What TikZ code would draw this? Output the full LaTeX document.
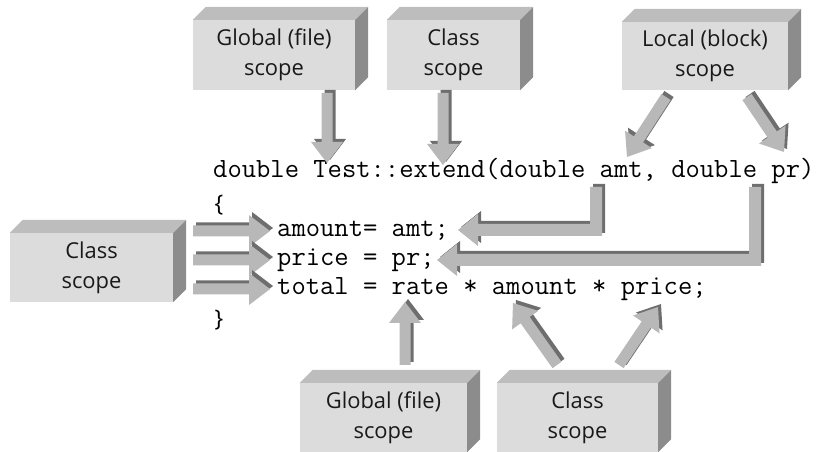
\documentclass[tikz,border=0pt]{standalone}
\usepackage{fontspec}
\setmainfont{Open Sans}
\usetikzlibrary{calc}
\definecolor{boxfront}{HTML}{DCDCDC}
\definecolor{boxtop}{HTML}{BDBDBD}
\definecolor{boxside}{HTML}{8C8C8C}
\definecolor{arrowlight}{HTML}{B8B8B8}
\definecolor{arrowdark}{HTML}{6E6E6E}
\tikzset{
  scopebox/.style={fill=boxfront, inner sep=0pt, align=center,
    font=\fontsize{22}{30}\selectfont, text=black!90},
  code/.style={anchor=base west, inner sep=0pt, font=\ttfamily\fontsize{27.9}{29}\selectfont},
  brace/.style={inner sep=0pt, font=\fontsize{23}{28}\selectfont},
}
% 3D sides of a box node
\newcommand\boxsides[1]{%
  \fill[boxtop] (#1.north west) -- ++(13,-13) -- ($(#1.north east)+(13,-13)$) -- (#1.north east) -- cycle;
  \fill[boxside] (#1.north east) -- ++(13,-13) -- ($(#1.south east)+(13,-13)$) -- (#1.south east) -- cycle;}
% straight block arrow from #1 to #2
\newcommand\blockarrow[2]{%
  \foreach \st/\sx in {arrowdark/3, arrowlight/0}{%
  \fill[\st, transform canvas={shift={(\sx,-\sx)}}]
    ($(#1)!5.5bp!90:(#2)$) -- ($(#2)!21bp!(#1)!5.5bp!-90:(#1)$)
    -- ($(#2)!21bp!(#1)!16bp!-90:(#1)$) -- (#2)
    -- ($(#2)!21bp!(#1)!16bp!90:(#1)$) -- ($(#2)!21bp!(#1)!5.5bp!90:(#1)$)
    -- ($(#1)!5.5bp!-90:(#2)$) -- cycle;}}
% L-shaped block arrow: start, corner, tip
\newcommand\larrow[3]{%
  \foreach \st/\sx in {arrowdark/3, arrowlight/0}{%
  \fill[\st, transform canvas={shift={(\sx,-\sx)}}]
    ($(#1)+(-6,0)$) -- ($(#1)+(6,0)$) -- ($(#2)+(6,6)$) -- ($(#3)+(20,6)$)
    -- ($(#3)+(20,16)$) -- (#3) -- ($(#3)+(20,-16)$) -- ($(#3)+(20,-6)$)
    -- ($(#2)+(-6,-6)$) -- cycle;}}
\begin{document}
\begin{tikzpicture}[x=1bp,y=-1bp]
\useasboundingbox (0,0) rectangle (818,452);
% boxes
\node[scopebox, minimum width=162bp, minimum height=70bp] (gtop) at (274,55) {Global (file)\\scope};
\node[scopebox, minimum width=133bp, minimum height=70bp] (ctop) at (453.5,55) {Class\\scope};
\node[scopebox, minimum width=166bp, minimum height=68bp] (ltop) at (705,56) {Local (block)\\scope};
\node[scopebox, minimum width=163bp, minimum height=69bp] (cleft) at (91.5,267.5) {Class\\scope};
\node[scopebox, minimum width=167bp, minimum height=69bp] (gbot) at (383.5,417.5) {Global (file)\\scope};
\node[scopebox, minimum width=161bp, minimum height=69bp] (cbot) at (577.5,417.5) {Class\\scope};
\boxsides{gtop}\boxsides{ctop}\boxsides{ltop}\boxsides{cleft}\boxsides{gbot}\boxsides{cbot}
% code
\node[code] (l1) at (213,178) {double Test::extend(double amt, double pr)};
\node[brace] (ob) at (219,205) {\{};
\node[code] (l2) at (277,237) {amount= amt;};
\node[code] (l3) at (277,266) {price = pr;};
\node[code] (l4) at (277,295) {total = rate * amount * price;};
\node[brace] (cb) at (219,320) {\}};
% arrow end points
\coordinate (a1s) at (327,93);  \coordinate (a1t) at (327,163);
\coordinate (a2s) at (443,93);  \coordinate (a2t) at (443,165);
\coordinate (a3s) at (666,97);  \coordinate (a3t) at (627,157);
\coordinate (a4s) at (747,97);  \coordinate (a4t) at (784,152);
\coordinate (b1s) at (193,231); \coordinate (b1t) at (270,231);
\coordinate (b2s) at (193,260); \coordinate (b2t) at (270,260);
\coordinate (b3s) at (193,289); \coordinate (b3t) at (270,289);
\coordinate (c1s) at (405,365); \coordinate (c1t) at (405,302);
\coordinate (c2s) at (557,365); \coordinate (c2t) at (513,303);
\coordinate (c3s) at (619,365); \coordinate (c3t) at (658,307);
\coordinate (d1s) at (596,187); \coordinate (d1c) at (596,230); \coordinate (d1t) at (458,230);
\coordinate (d2s) at (755,187); \coordinate (d2c) at (755,260); \coordinate (d2t) at (437,260);
\blockarrow{a1s}{a1t}\blockarrow{a2s}{a2t}\blockarrow{a3s}{a3t}\blockarrow{a4s}{a4t}
\blockarrow{b1s}{b1t}\blockarrow{b2s}{b2t}\blockarrow{b3s}{b3t}
\blockarrow{c1s}{c1t}\blockarrow{c2s}{c2t}\blockarrow{c3s}{c3t}
\larrow{d1s}{d1c}{d1t}\larrow{d2s}{d2c}{d2t}
\end{tikzpicture}
\end{document}
